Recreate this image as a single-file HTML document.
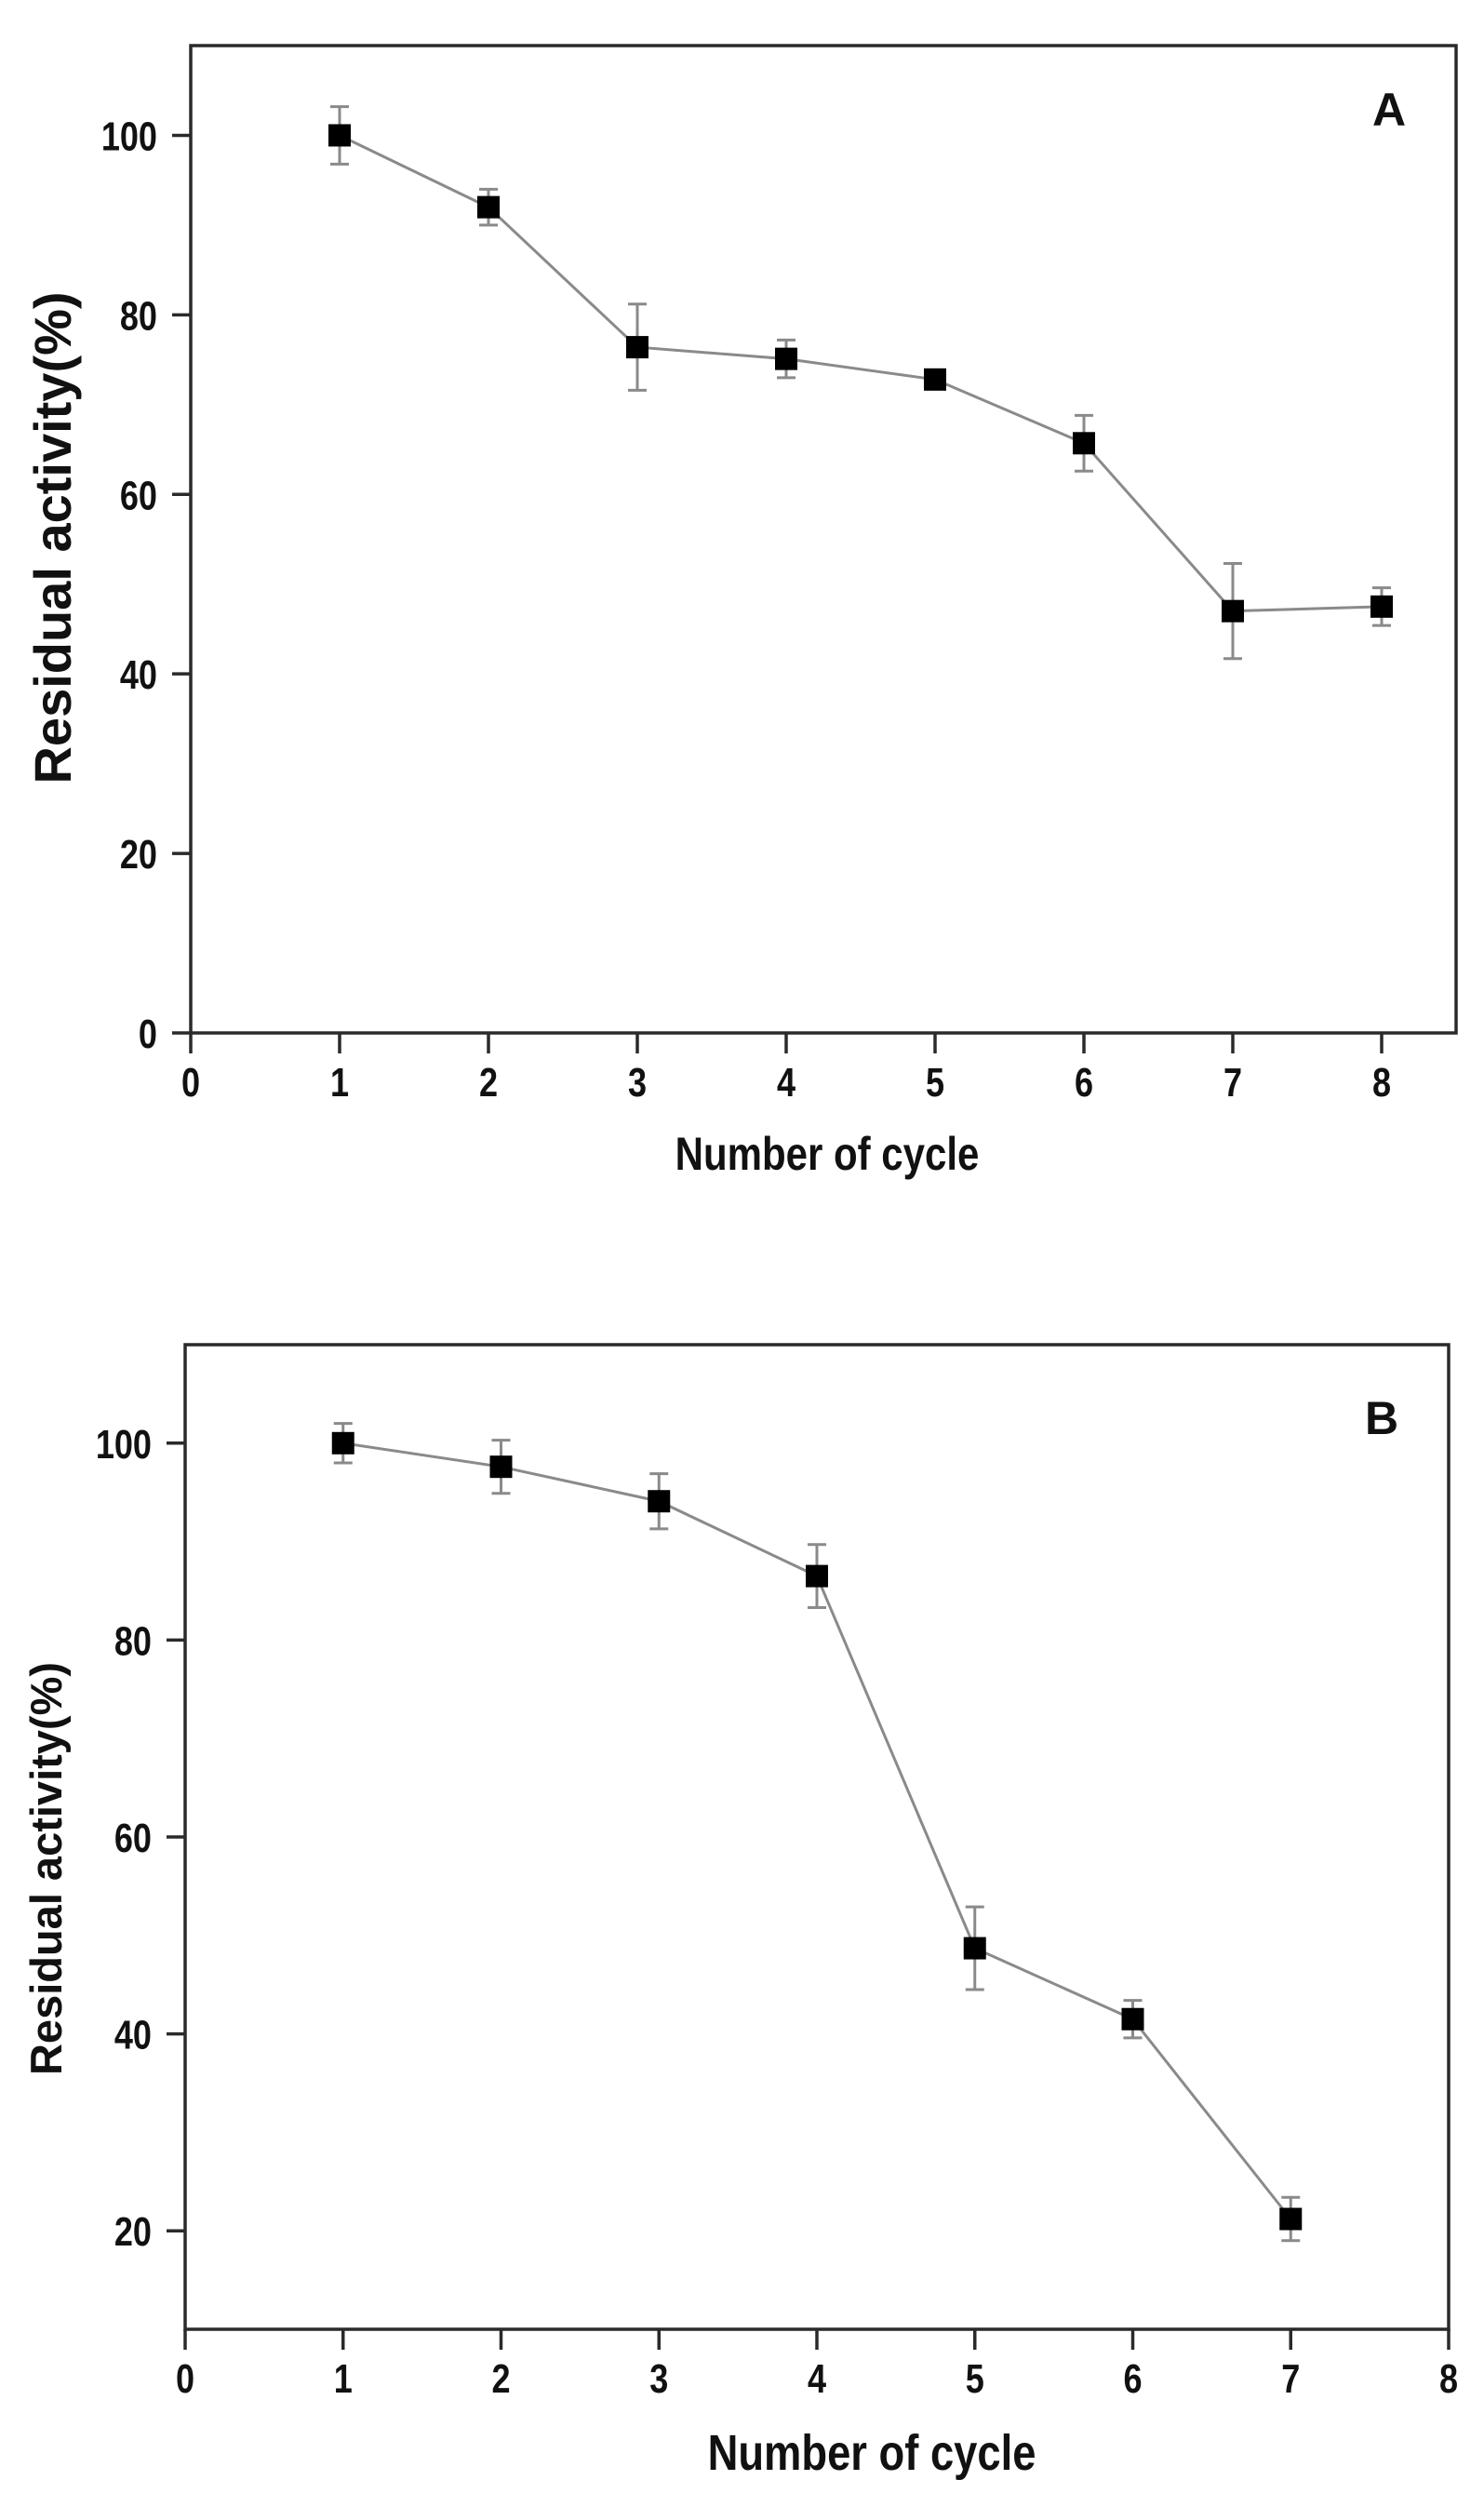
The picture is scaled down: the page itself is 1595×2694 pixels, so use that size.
<!DOCTYPE html>
<html><head><meta charset="utf-8"><style>
html,body{margin:0;padding:0;background:#fff;}
svg{display:block;}
.tk{font-family:"Liberation Sans",sans-serif;font-weight:bold;font-size:44px;fill:#111;}
.tt{font-family:"Liberation Sans",sans-serif;font-weight:bold;fill:#111;}
</style></head><body>
<svg id="fig" width="1595" height="2694" viewBox="0 0 1595 2694" xmlns="http://www.w3.org/2000/svg"></svg>
<script>
// Panel A data
const cyclesA = [1,2,3,4,5,6,7,8];
const valuesA = [100,92,76.4,75.1,72.8,65.7,47,47.5];
const errorsA = [3.2,2,4.8,2.1,0.6,3.1,5.3,2.1];
const xTicksA = [0,1,2,3,4,5,6,7,8];
const yTicksA = [0,20,40,60,80,100];
// Panel B data
const cyclesB = [1,2,3,4,5,6,7];
const valuesB = [100,97.6,94.1,86.5,48.7,41.5,21.2];
const errorsB = [2,2.7,2.8,3.2,4.2,1.9,2.2];
const xTicksB = [0,1,2,3,4,5,6,7,8];
const yTicksB = [20,40,60,80,100];

const NS='http://www.w3.org/2000/svg';
const svg=document.getElementById('fig');
function mk(tag,attrs,parent){const e=document.createElementNS(NS,tag);for(const k in attrs)e.setAttribute(k,attrs[k]);(parent||svg).appendChild(e);return e;}

function panel(cfg){
  const g=mk('g',{});
  
  
  const sx=v=>cfg.L+(v-cfg.x0)/(cfg.x1-cfg.x0)*(cfg.R-cfg.L);
  const sy=v=>cfg.B-(v-cfg.y0)/(cfg.y1-cfg.y0)*(cfg.B-cfg.T);
  const frame=mk('rect',{x:cfg.L,y:cfg.T,width:cfg.R-cfg.L,height:cfg.B-cfg.T,fill:'none',stroke:'#2a2a2a','stroke-width':3.5},g);
  
  
  cfg.xt.forEach(t=>{
    const x=sx(t);
    const l=mk('line',{x1:x,y1:cfg.B,x2:x,y2:cfg.B+22,stroke:'#2a2a2a','stroke-width':3.5},g);
    
    
    const tx=mk('text',{x:0,y:0,'text-anchor':'middle',class:'tk',transform:`translate(${x},${cfg.B+68}) scale(0.82,1)`},g);
    tx.textContent=t;
    
    
  });
  cfg.yt.forEach(t=>{
    const y=sy(t);
    const l=mk('line',{x1:cfg.L-20,y1:y,x2:cfg.L,y2:y,stroke:'#2a2a2a','stroke-width':3.5},g);
    
    
    const tx=mk('text',{x:0,y:0,'text-anchor':'end',class:'tk',transform:`translate(${cfg.L-36},${y+16}) scale(0.82,1)`},g);
    tx.textContent=t;
    
    
  });
  const pts=cfg.xs.map((c,i)=>sx(c)+','+sy(cfg.ys[i])).join(' ');
  const pl=mk('polyline',{points:pts,fill:'none',stroke:'#8a8a8a','stroke-width':3},g);
  
  
  cfg.xs.forEach((c,i)=>{
    const x=sx(c),y=sy(cfg.ys[i]),yt=sy(cfg.ys[i]+cfg.es[i]),yb=sy(cfg.ys[i]-cfg.es[i]);
    const eb=mk('path',{d:`M${x},${yt}V${yb}M${x-10},${yt}H${x+10}M${x-10},${yb}H${x+10}`,stroke:'#8a8a8a','stroke-width':3,fill:'none'},g);
    
    
    const m=mk('rect',{x:x-12,y:y-12,width:24,height:24,fill:'#000'},g);
    
    
  });
  const lab=mk('text',{x:cfg.labX,y:cfg.labY,'text-anchor':'middle',class:'tt','font-size':50},g);
  lab.textContent=cfg.label;
  
  
  const xtl=mk('text',{x:0,y:0,'text-anchor':'middle',class:'tt','font-size':cfg.xtS,transform:`translate(${cfg.xtX},${cfg.xtY}) scale(0.84,1)`},g);
  xtl.textContent='Number of cycle';
  
  
  const ytl=mk('text',{x:0,y:0,'text-anchor':'middle',class:'tt','font-size':cfg.ytS,transform:`translate(${cfg.ytX},${cfg.ytY}) rotate(-90)`},g);
  ytl.textContent='Residual activity(%)';
  
  
}

panel({name:'chart-a',L:205,R:1565,T:49,B:1110,x0:0,x1:8.5,y0:0,y1:110,
  xs:cyclesA,ys:valuesA,es:errorsA,xt:xTicksA,yt:yTicksA,label:'A',labX:1493,labY:135,
  xtX:889,xtY:1257,xtS:50,ytX:76,ytY:578,ytS:56});
panel({name:'chart-b',L:199,R:1557,T:1445,B:2503,x0:0,x1:8,y0:10,y1:110,
  xs:cyclesB,ys:valuesB,es:errorsB,xt:xTicksB,yt:yTicksB,label:'B',labX:1485,labY:1541,
  xtX:937,xtY:2654,xtS:54,ytX:66,ytY:2008,ytS:47});
</script>
</body></html>
